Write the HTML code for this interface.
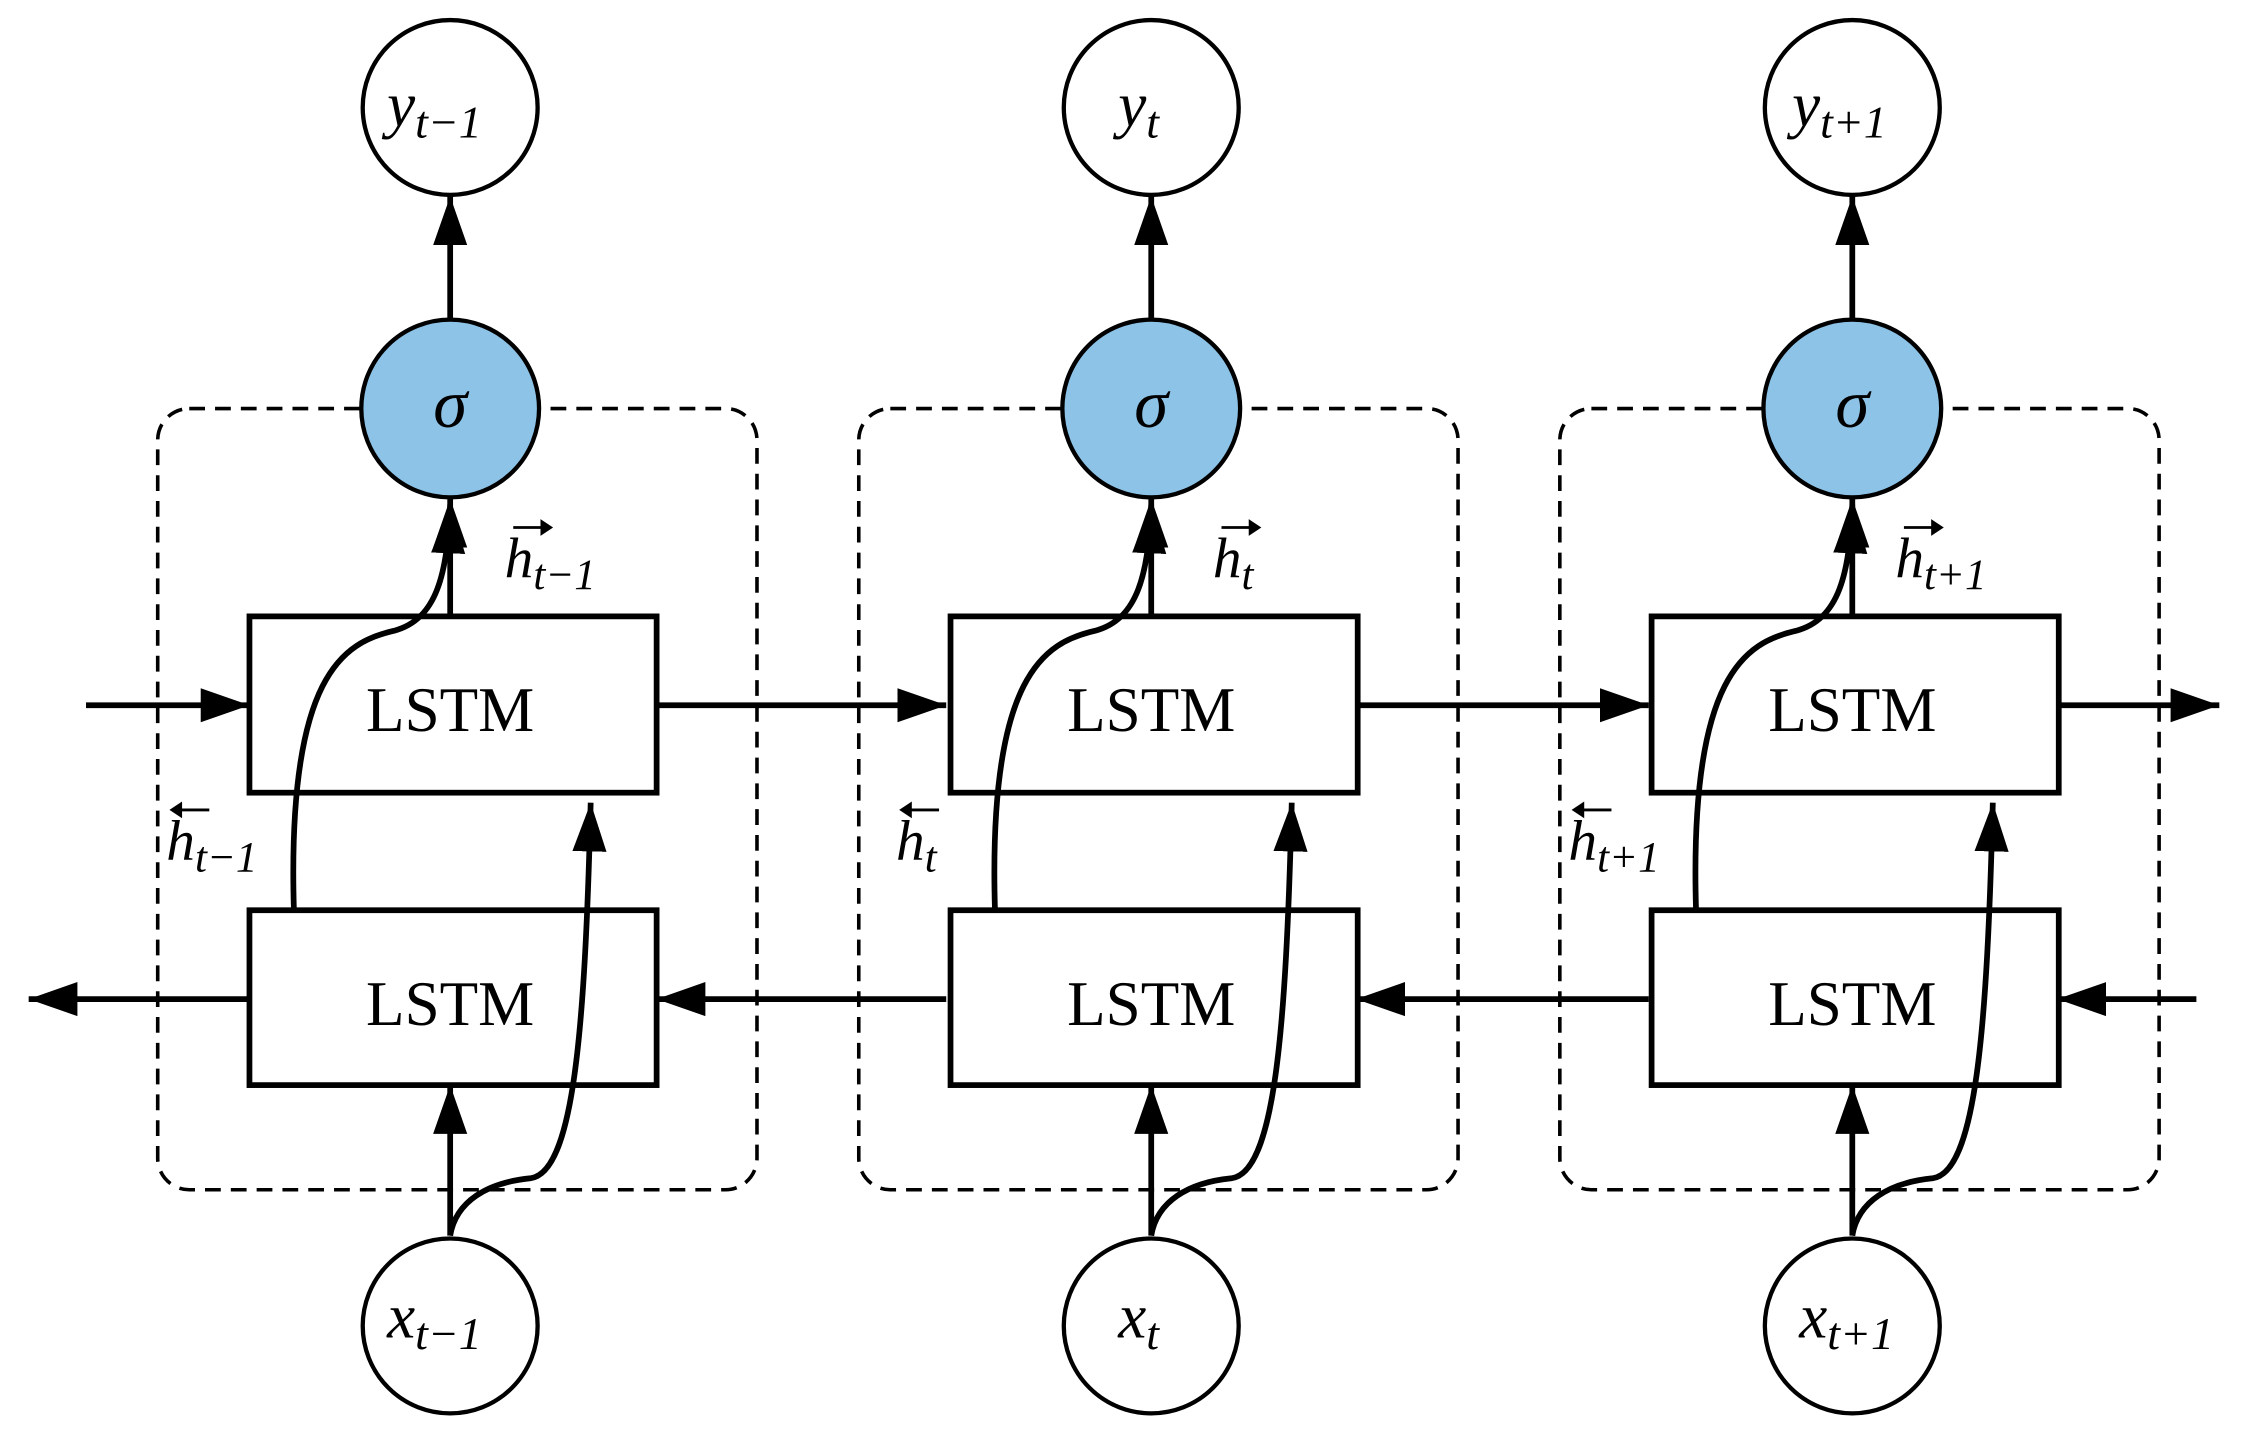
<!DOCTYPE html>
<html><head><style>html,body{margin:0;padding:0;background:#fff;}svg{display:block}</style></head><body>
<svg width="2248" height="1432" viewBox="0 0 1568 999" preserveAspectRatio="none" xmlns="http://www.w3.org/2000/svg">
<defs>
<marker id="b" viewBox="0 0 10 10" refX="10" refY="5" markerWidth="34" markerHeight="34" markerUnits="userSpaceOnUse" orient="auto"><path d="M0,1.5L10,5L0,8.5z" fill="#000"/></marker>
</defs>
<g font-family="Liberation Serif, serif" fill="none" stroke="#000" stroke-width="4">
<line x1="60" y1="492" x2="174" y2="492" marker-end="url(#b)"/>
<line x1="458" y1="492" x2="660" y2="492" marker-end="url(#b)"/>
<line x1="946" y1="492" x2="1150" y2="492" marker-end="url(#b)"/>
<line x1="1435" y1="492" x2="1548" y2="492" marker-end="url(#b)"/>
<line x1="174" y1="697" x2="20" y2="697" marker-end="url(#b)"/>
<line x1="660" y1="697" x2="458" y2="697" marker-end="url(#b)"/>
<line x1="1150" y1="697" x2="946" y2="697" marker-end="url(#b)"/>
<line x1="1532" y1="697" x2="1435" y2="697" marker-end="url(#b)"/>
</g>
<g id="col" font-family="Liberation Serif, serif">
<rect x="110" y="285" width="418" height="545" rx="22" fill="none" stroke="#000" stroke-width="2.5" stroke-dasharray="11,7"/>
<rect x="174" y="430" width="284" height="123" fill="#fff" stroke="#000" stroke-width="4"/>
<rect x="174" y="635" width="284" height="122" fill="#fff" stroke="#000" stroke-width="4"/>
<text x="314" y="510" font-size="44" text-anchor="middle">LSTM</text>
<text x="314" y="715" font-size="44" text-anchor="middle">LSTM</text>
<g fill="none" stroke="#000" stroke-width="4">
<line x1="314" y1="223" x2="314" y2="137" marker-end="url(#b)"/>
<line x1="314" y1="430" x2="314" y2="348" marker-end="url(#b)"/>
<line x1="314" y1="862" x2="314" y2="757" marker-end="url(#b)"/>
<path d="M205,635 C200,470 240,448 275,440 C305,432 312,400 314,352" marker-end="url(#b)"/>
<path d="M314,862 C318,838 340,825 370,822 C400,818 408,720 412,560" marker-end="url(#b)"/>
</g>
<circle cx="314" cy="285" r="62" fill="#8dc3e7" stroke="#000" stroke-width="3"/>
<text x="314" y="298" font-size="48" font-style="italic" text-anchor="middle">σ</text>
<circle cx="314" cy="75" r="61" fill="#fff" stroke="#000" stroke-width="3"/>
<circle cx="314" cy="925" r="61" fill="#fff" stroke="#000" stroke-width="3"/>
</g>
<use href="#col" x="489"/>
<use href="#col" x="978"/>
<g font-family="Liberation Serif, serif" font-style="italic" fill="#000">
<text x="270" y="88" font-size="44">y<tspan font-size="32" dy="8">t−1</tspan></text>
<text x="780" y="88" font-size="44">y<tspan font-size="32" dy="8">t</tspan></text>
<text x="1250" y="88" font-size="44">y<tspan font-size="32" dy="8">t+1</tspan></text>
<text x="270" y="933" font-size="44">x<tspan font-size="32" dy="8">t−1</tspan></text>
<text x="780" y="933" font-size="44">x<tspan font-size="32" dy="8">t</tspan></text>
<text x="1255" y="933" font-size="44">x<tspan font-size="32" dy="8">t+1</tspan></text>
<g font-size="40">
<text x="352" y="403">h<tspan font-size="30" dy="8">t−1</tspan></text>
<text x="846" y="403">h<tspan font-size="30" dy="8">t</tspan></text>
<text x="1322" y="403">h<tspan font-size="30" dy="8">t+1</tspan></text>
<text x="116" y="600">h<tspan font-size="30" dy="8">t−1</tspan></text>
<text x="625" y="600">h<tspan font-size="30" dy="8">t</tspan></text>
<text x="1094" y="600">h<tspan font-size="30" dy="8">t+1</tspan></text>
</g>
</g>
<g stroke="#000" stroke-width="2" fill="#000">
<path d="M358,368 h20"/><path d="M378,364 l6,4 l-6,4z"/>
<path d="M852,368 h20"/><path d="M872,364 l6,4 l-6,4z"/>
<path d="M1328,368 h20"/><path d="M1348,364 l6,4 l-6,4z"/>
<path d="M126,565 h20"/><path d="M126,561 l-6,4 l6,4z"/>
<path d="M635,565 h20"/><path d="M635,561 l-6,4 l6,4z"/>
<path d="M1104,565 h20"/><path d="M1104,561 l-6,4 l6,4z"/>
</g>
</svg>
</body></html>
